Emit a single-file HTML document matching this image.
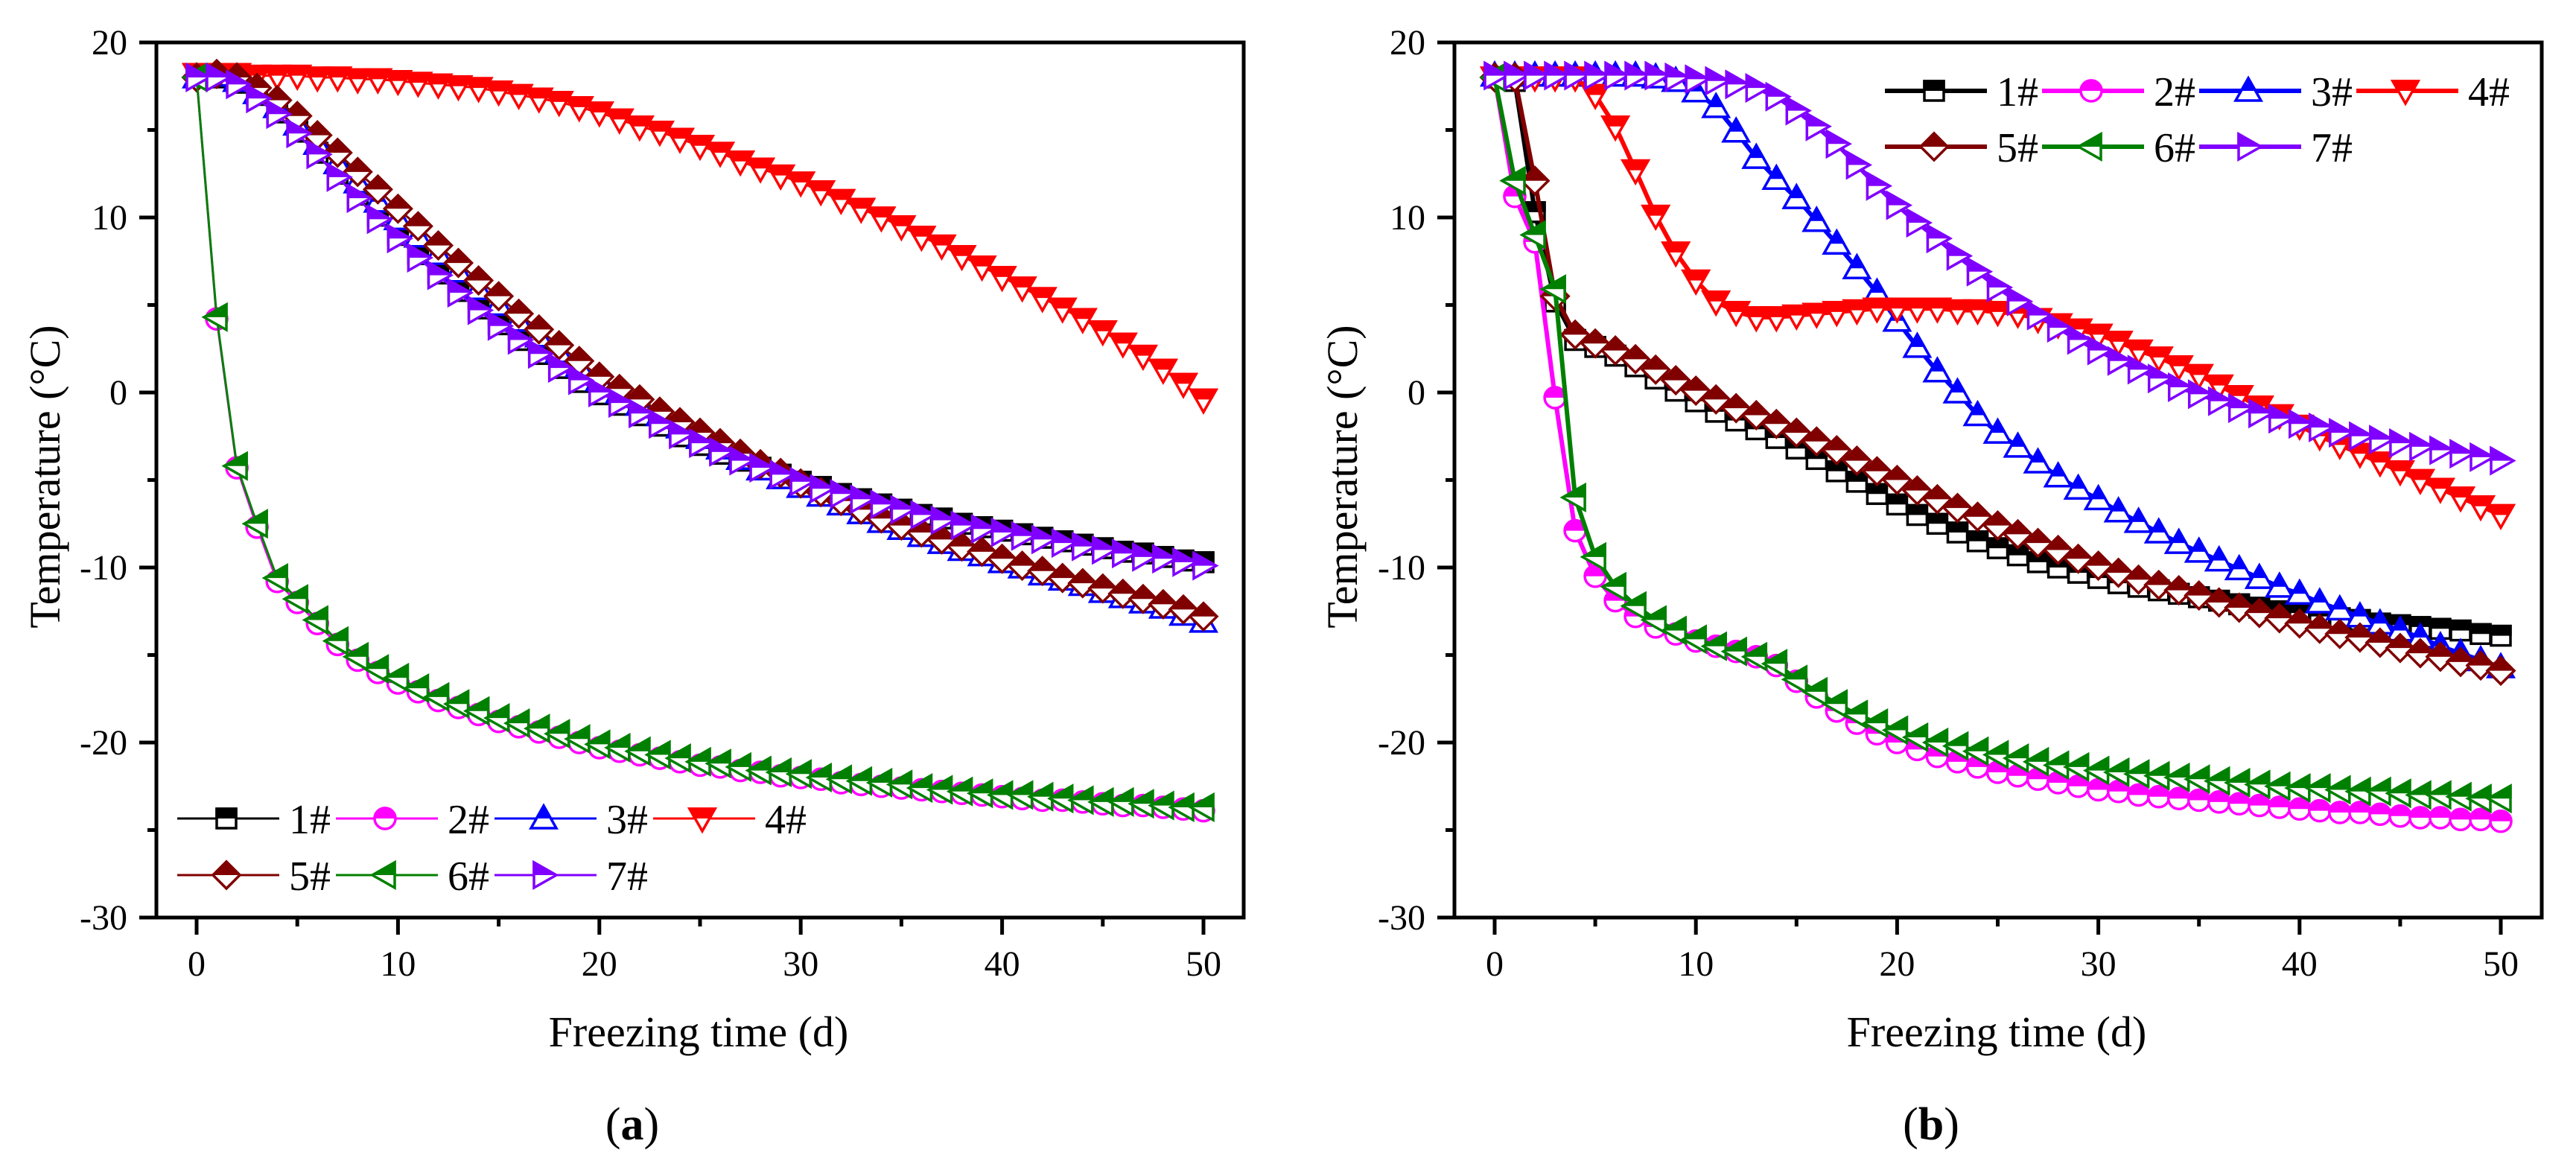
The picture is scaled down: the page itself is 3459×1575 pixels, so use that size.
<!DOCTYPE html>
<html><head><meta charset="utf-8">
<style>
html,body{margin:0;padding:0;background:#fff;}
svg{display:block;font-family:"Liberation Serif",serif;}
</style></head>
<body>
<svg id="fig" width="3459" height="1575" viewBox="0 0 3459 1575" xmlns="http://www.w3.org/2000/svg">
<defs>
<clipPath id="tophalf"><rect x="-30" y="-30" width="60" height="30"/></clipPath>
</defs>
</svg>
<script>
const days = [];
for (let i = 0; i <= 50; i++) days.push(i);
const xTicks = [0,10,20,30,40,50];
const yTicks = [20,10,0,-10,-20,-30];
const seriesNames = ["1#","2#","3#","4#","5#","6#","7#"];

const a1 = [18,18,17.7,17.0,16.0,14.9,13.7,12.5,11.3,10.1,9.0,7.9,6.8,5.8,4.8,3.9,3.0,2.2,1.4,0.6,-0.1,-0.7,-1.3,-1.9,-2.5,-3.0,-3.5,-3.9,-4.3,-4.7,-5.1,-5.4,-5.8,-6.1,-6.4,-6.7,-7.0,-7.2,-7.5,-7.7,-7.9,-8.1,-8.3,-8.5,-8.7,-8.9,-9.1,-9.2,-9.4,-9.6,-9.7];
const a2 = [18,4.2,-4.3,-7.7,-10.8,-12.0,-13.2,-14.4,-15.3,-16.0,-16.6,-17.1,-17.6,-18.0,-18.4,-18.8,-19.1,-19.4,-19.7,-20.0,-20.3,-20.5,-20.7,-20.9,-21.1,-21.3,-21.4,-21.6,-21.7,-21.9,-22.0,-22.1,-22.3,-22.4,-22.5,-22.6,-22.7,-22.8,-22.9,-23.0,-23.1,-23.2,-23.3,-23.3,-23.4,-23.5,-23.6,-23.6,-23.7,-23.8,-23.9];
const a3 = [18,18.1,17.8,17.1,16.3,15.3,14.2,13.1,12.0,10.9,9.9,8.9,7.9,6.9,5.9,5.0,4.1,3.2,2.3,1.5,0.7,0.0,-0.7,-1.3,-2.0,-2.6,-3.2,-3.8,-4.4,-4.9,-5.4,-5.9,-6.4,-6.9,-7.4,-7.8,-8.2,-8.6,-9.0,-9.3,-9.7,-10.0,-10.4,-10.7,-11.0,-11.4,-11.7,-12.0,-12.3,-12.7,-13.1];
const a4 = [18.2,18.2,18.2,18.1,18.1,18.1,18.0,18.0,17.9,17.9,17.8,17.7,17.6,17.5,17.4,17.2,17.0,16.8,16.6,16.3,16.0,15.6,15.2,14.9,14.5,14.1,13.7,13.2,12.8,12.4,12.0,11.5,11.0,10.5,10.0,9.5,8.9,8.4,7.8,7.2,6.6,6.0,5.4,4.8,4.2,3.5,2.8,2.1,1.3,0.5,-0.4];
const a5 = [18,18.2,18,17.4,16.7,15.8,14.7,13.7,12.6,11.6,10.5,9.5,8.4,7.4,6.4,5.5,4.5,3.6,2.7,1.8,0.9,0.2,-0.4,-1.1,-1.7,-2.3,-2.9,-3.5,-4.1,-4.6,-5.2,-5.7,-6.2,-6.7,-7.2,-7.6,-8.0,-8.4,-8.8,-9.1,-9.5,-9.9,-10.2,-10.6,-10.9,-11.2,-11.5,-11.8,-12.1,-12.4,-12.8];
const a6 = [18,4.3,-4.2,-7.5,-10.6,-11.8,-13.0,-14.2,-15.1,-15.8,-16.3,-16.9,-17.4,-17.8,-18.2,-18.6,-18.9,-19.2,-19.5,-19.8,-20.1,-20.3,-20.5,-20.7,-20.9,-21.1,-21.2,-21.4,-21.6,-21.7,-21.8,-22.0,-22.1,-22.2,-22.3,-22.4,-22.6,-22.7,-22.8,-22.9,-23.0,-23.0,-23.1,-23.2,-23.3,-23.4,-23.4,-23.5,-23.6,-23.7,-23.7];
const a7 = [18,18,17.6,16.8,15.9,14.8,13.6,12.3,11.1,9.9,8.8,7.7,6.7,5.7,4.7,3.8,3.0,2.2,1.4,0.7,0.0,-0.6,-1.2,-1.8,-2.4,-2.9,-3.4,-3.9,-4.3,-4.7,-5.1,-5.5,-5.8,-6.1,-6.4,-6.7,-7.0,-7.3,-7.6,-7.8,-8.0,-8.2,-8.4,-8.6,-8.8,-9.0,-9.2,-9.4,-9.5,-9.7,-9.9];

const b1 = [18,17.8,10.3,5.2,3.0,2.6,2.1,1.5,0.8,0.1,-0.5,-1.1,-1.6,-2.1,-2.6,-3.2,-3.8,-4.5,-5.1,-5.8,-6.4,-7.0,-7.5,-8.0,-8.5,-8.9,-9.3,-9.7,-10.0,-10.3,-10.6,-10.9,-11.1,-11.3,-11.5,-11.7,-11.9,-12.1,-12.3,-12.5,-12.6,-12.8,-12.9,-13.0,-13.2,-13.3,-13.4,-13.5,-13.6,-13.8,-13.9];
const b2 = [18,11.2,8.6,-0.3,-7.9,-10.5,-11.9,-12.8,-13.4,-13.8,-14.2,-14.5,-14.8,-15.1,-15.6,-16.5,-17.4,-18.2,-18.9,-19.5,-20.0,-20.4,-20.8,-21.1,-21.4,-21.7,-21.9,-22.1,-22.3,-22.5,-22.7,-22.8,-23.0,-23.1,-23.2,-23.3,-23.4,-23.5,-23.6,-23.7,-23.8,-23.9,-24.0,-24.0,-24.1,-24.2,-24.3,-24.3,-24.4,-24.4,-24.5];
const b3 = [18.1,18.1,18.1,18.1,18.1,18.1,18.1,18.1,18.0,17.8,17.2,16.3,14.9,13.4,12.2,11.1,9.8,8.5,7.1,5.7,4.1,2.6,1.2,0.0,-1.3,-2.3,-3.1,-4.0,-4.8,-5.5,-6.1,-6.8,-7.4,-8.0,-8.6,-9.1,-9.6,-10.1,-10.6,-11.1,-11.5,-12.0,-12.4,-12.8,-13.2,-13.6,-14.0,-14.5,-14.9,-15.3,-15.7];
const b4 = [18.0,18.0,18.0,18.0,18.0,17.0,15.2,12.7,10.1,8.0,6.4,5.2,4.6,4.3,4.3,4.4,4.5,4.6,4.7,4.8,4.8,4.8,4.8,4.7,4.7,4.6,4.5,4.2,3.9,3.6,3.3,2.9,2.4,2.0,1.5,1.0,0.4,-0.2,-0.8,-1.3,-1.9,-2.5,-3.0,-3.5,-4.0,-4.5,-5.0,-5.5,-6.0,-6.5,-7.0];
const b5 = [18,18,12.1,5.5,3.3,2.8,2.4,1.9,1.3,0.7,0.1,-0.4,-0.9,-1.3,-1.8,-2.3,-2.8,-3.3,-3.9,-4.5,-5.0,-5.6,-6.1,-6.6,-7.1,-7.6,-8.1,-8.6,-9.0,-9.5,-9.9,-10.3,-10.7,-11.0,-11.3,-11.6,-12.0,-12.3,-12.6,-12.9,-13.2,-13.5,-13.8,-14.0,-14.3,-14.6,-14.9,-15.1,-15.4,-15.6,-15.9];
const b6 = [18,12.1,9.0,5.9,-6.0,-9.4,-11.1,-12.2,-13.0,-13.6,-14.1,-14.5,-14.8,-15.1,-15.5,-16.4,-17.1,-17.8,-18.4,-18.9,-19.3,-19.7,-20.0,-20.2,-20.5,-20.7,-20.9,-21.1,-21.3,-21.4,-21.6,-21.7,-21.8,-21.9,-22.0,-22.1,-22.2,-22.3,-22.4,-22.5,-22.6,-22.6,-22.7,-22.8,-22.8,-22.9,-23.0,-23.0,-23.1,-23.2,-23.2];
const b7 = [18.1,18.1,18.1,18.1,18.1,18.1,18.1,18.1,18.1,18.0,17.9,17.8,17.6,17.4,16.9,16.1,15.2,14.2,13.0,11.8,10.7,9.7,8.8,7.8,6.9,6.0,5.2,4.4,3.7,3.0,2.4,1.8,1.3,0.8,0.3,-0.1,-0.5,-0.9,-1.2,-1.5,-1.8,-2.0,-2.3,-2.5,-2.7,-2.9,-3.1,-3.3,-3.5,-3.7,-3.9];

const colors = ["#000000","#ff00ff","#0000ff","#ff0000","#800000","#008000","#8000ff"];
const shapes = ["square","circle","up","down","diamond","left","right"];
const NS = "http://www.w3.org/2000/svg";
const svg = document.getElementById("fig");

function mk(tag, attrs, parent){
  const e = document.createElementNS(NS, tag);
  for (const k in attrs) e.setAttribute(k, attrs[k]);
  parent.appendChild(e);
  return e;
}
function shapeEl(shape, parent, attrs){
  const r = 15;
  let e;
  if (shape === "square") e = mk("rect", {x:-13,y:-13,width:26,height:26}, parent);
  else if (shape === "circle") e = mk("circle", {cx:0,cy:0,r:14}, parent);
  else {
    let p;
    if (shape === "up") p = "M0,-17 L17,13 L-17,13 Z";
    else if (shape === "down") p = "M0,17 L17,-13 L-17,-13 Z";
    else if (shape === "diamond") p = "M0,-18 L18,0 L0,18 L-18,0 Z";
    else if (shape === "left") p = "M-17,0 L13,-17 L13,17 Z";
    else p = "M17,0 L-13,-17 L-13,17 Z";
    e = mk("path", {d:p}, parent);
  }
  for (const k in attrs) e.setAttribute(k, attrs[k]);
  return e;
}
function marker(parent, x, y, si){
  const g = mk("g", {transform:"translate("+x.toFixed(1)+","+y.toFixed(1)+")"}, parent);
  
  
  shapeEl(shapes[si], g, {fill:"#fff", stroke:colors[si], "stroke-width":3.5});
  shapeEl(shapes[si], g, {fill:colors[si], stroke:colors[si], "stroke-width":3.5, "clip-path":"url(#tophalf)"});
}

function panel(cfg){
  const g = mk("g", {}, svg);
  
  
  const X = d => cfg.x0 + d * cfg.kx;
  const Y = v => 57 + (20 - v) * 23.5;
  const L = cfg.left, R = cfg.right, T = 57, B = 1232;
  // series
  const sg = mk("g", {}, g);
  
  
  cfg.series.forEach((arr, si) => {
    const pts = arr.map((v,i) => X(days[i]).toFixed(1)+","+Y(v).toFixed(1)).join(" ");
    const pl = mk("polyline", {points:pts, fill:"none", stroke:colors[si], "stroke-width":cfg.lw, "stroke-linejoin":"round"}, sg);
    
    
    arr.forEach((v,i) => marker(sg, X(days[i]), Y(v), si));
  });
  // frame
  const fr = mk("rect", {x:L, y:T, width:R-L, height:B-T, fill:"none", stroke:"#000", "stroke-width":5}, g);
  
  
  // x ticks
  for (let d = 0; d <= 50; d += 5) {
    const major = d % 10 === 0;
    mk("line", {x1:X(d), x2:X(d), y1:B, y2:B + (major?23:12), stroke:"#000", "stroke-width":5}, g);
  }
  xTicks.forEach(d => {
    const t = mk("text", {x:X(d), y:1310, "font-size":48, "text-anchor":"middle"}, g);
    t.textContent = d;
    
    
  });
  // y ticks
  for (let v = -30; v <= 20; v += 5) {
    const major = v % 10 === 0;
    mk("line", {x1:L - (major?23:12), x2:L, y1:Y(v), y2:Y(v), stroke:"#000", "stroke-width":5}, g);
  }
  yTicks.forEach(v => {
    const t = mk("text", {x:L-39, y:Y(v)+16, "font-size":48, "text-anchor":"end"}, g);
    t.textContent = v;
    
    
  });
  // titles
  const xt = mk("text", {x:(L+R)/2 - 2, y:1405, "font-size":58, "text-anchor":"middle"}, g);
  xt.textContent = "Freezing time (d)";
  
  
  const yt = mk("text", {x:0, y:0, "font-size":58, "text-anchor":"middle", transform:"translate("+(cfg.ytx)+",640) rotate(-90)"}, g);
  yt.textContent = "Temperature (°C)";
  
  
  const pl = mk("text", {x:cfg.labx, y:1530, "font-size":62, "text-anchor":"middle"}, g);
  pl.innerHTML = '(<tspan font-weight="bold">' + cfg.lab + '</tspan>)';
  
  
  // legend
  const lg = mk("g", {}, g);
  
  
  seriesNames.forEach((nm, si) => {
    const row = si < 4 ? 0 : 1, col = si < 4 ? si : si - 4;
    const s = cfg.legX + col * cfg.legDX, y = cfg.legY + row * cfg.legDY;
    const eg = mk("g", {}, lg);
    
    
    mk("line", {x1:s, x2:s+137, y1:y, y2:y, stroke:colors[si], "stroke-width":cfg.lw}, eg);
    marker(eg, s+66, y, si);
    const t = mk("text", {x:s+150, y:y+20, "font-size":56}, eg);
    t.textContent = nm;
  });
}

panel({name:"panel-a", left:210, right:1670, x0:264, kx:27.04, lw:3,
  series:[a1,a2,a3,a4,a5,a6,a7], ytx:80, labx:849, lab:"a",
  legX:238, legY:1099, legDX:213, legDY:76});
panel({name:"panel-b", left:1953, right:3413, x0:2007, kx:27.02, lw:6,
  series:[b1,b2,b3,b4,b5,b6,b7], ytx:1822, labx:2593, lab:"b",
  legX:2531, legY:122, legDX:211, legDY:75});
</script>
</body></html>
